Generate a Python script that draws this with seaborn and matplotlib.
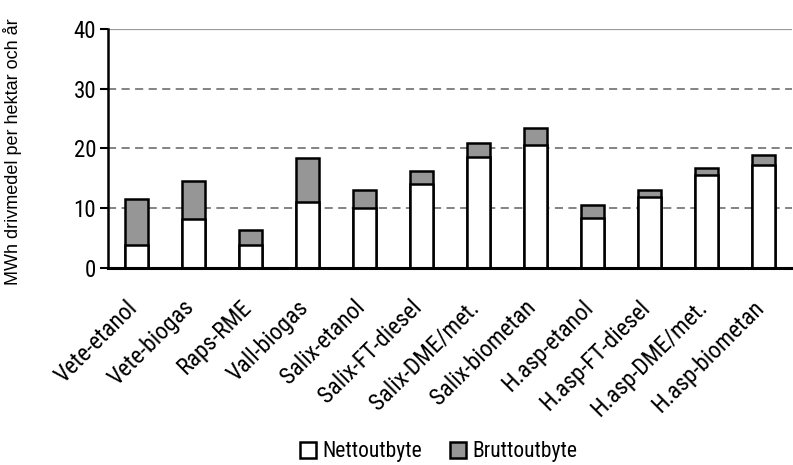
import matplotlib
matplotlib.use("Agg")
import matplotlib.pyplot as plt
from matplotlib.patches import Patch
from matplotlib.transforms import ScaledTranslation
import pandas as pd
import seaborn as sns

# Energy yield per hectare for each crop/fuel pathway (MWh fuel per ha and year)
categories = ["Vete-etanol", "Vete-biogas", "Raps-RME", "Vall-biogas", "Salix-etanol",
              "Salix-FT-diesel", "Salix-DME/met.", "Salix-biometan", "H.asp-etanol",
              "H.asp-FT-diesel", "H.asp-DME/met.", "H.asp-biometan"]
netto = [3.9, 8.2, 3.9, 11.0, 10.0, 14.0, 18.6, 20.6, 8.4, 11.9, 15.5, 17.2]
brutto = [11.5, 14.5, 6.3, 18.4, 13.0, 16.2, 20.9, 23.4, 10.5, 13.1, 16.8, 18.9]
y_ticks = [0, 10, 20, 30, 40]

ylabel = "MWh drivmedel per hektar och år"
legend_labels = ["Nettoutbyte", "Bruttoutbyte"]

df = pd.DataFrame({"kategori": categories, "netto": netto, "brutto": brutto})

sns.set_style("white")
narrow = ["Roboto Condensed", "DejaVu Sans"]
regular = ["Liberation Sans", "DejaVu Sans"]
plt.rcParams["font.family"] = narrow

GRAY = "#969696"

fig = plt.figure(figsize=(7.93, 4.65), dpi=100)
ax = fig.add_axes([108 / 793, 1 - 268 / 465, 684 / 793, 239 / 465])

# Gross yield drawn full height, net yield drawn over it from the baseline
sns.barplot(data=df, x="kategori", y="brutto", color=GRAY, width=0.4,
            edgecolor="black", linewidth=1.8, saturation=1, ax=ax, zorder=3)
sns.barplot(data=df, x="kategori", y="netto", color="white", width=0.4,
            edgecolor="black", linewidth=1.8, saturation=1, ax=ax, zorder=4)

ax.set_xlim(-0.5, len(categories) - 0.5)
ax.set_ylim(0, 40)
ax.set_yticks(y_ticks)
ax.set_xlabel("")
ax.set_ylabel("")

# Horizontal reference lines
for v in y_ticks[1:-1]:
    ax.axhline(v, color="#7a7a7a", lw=1.3, ls=(0, (4.5, 3.0)), zorder=1)
ax.axhline(40, color="#9a9a9a", lw=1.6, zorder=1)

for side in ("top", "right"):
    ax.spines[side].set_visible(False)
ax.spines["left"].set_linewidth(1.8)
ax.spines["left"].set_color("black")
ax.spines["bottom"].set_linewidth(2.2)
ax.spines["bottom"].set_color("black")
ax.spines["bottom"].set_zorder(5)

ax.tick_params(axis="y", length=5.5, width=1.5, color="black", direction="out",
               left=True, labelsize=16.5, pad=3, labelcolor="black")
ax.tick_params(axis="x", length=0, pad=20, labelsize=17, labelcolor="black")
shift = ScaledTranslation(-11 / 100, 0, fig.dpi_scale_trans)
for lab in ax.get_xticklabels():
    lab.set_rotation(45)
    lab.set_ha("right")
    lab.set_va("top")
    lab.set_rotation_mode("anchor")
    lab.set_transform(lab.get_transform() + shift)

fig.text(13 / 793, 1 - 152 / 465, ylabel, rotation=90, ha="center", va="center",
         fontsize=13, family=regular, color="black")

handles = [Patch(facecolor="white", edgecolor="black", linewidth=1.8),
           Patch(facecolor=GRAY, edgecolor="black", linewidth=1.8)]
fig.legend(handles, legend_labels, loc="center", bbox_to_anchor=(0.553, 0.028),
           ncol=2, frameon=False, fontsize=15.5, handlelength=0.75, handleheight=0.75,
           handletextpad=0.3, columnspacing=1.3, borderpad=0, labelcolor="black")

fig.savefig("out.png", dpi=100)
